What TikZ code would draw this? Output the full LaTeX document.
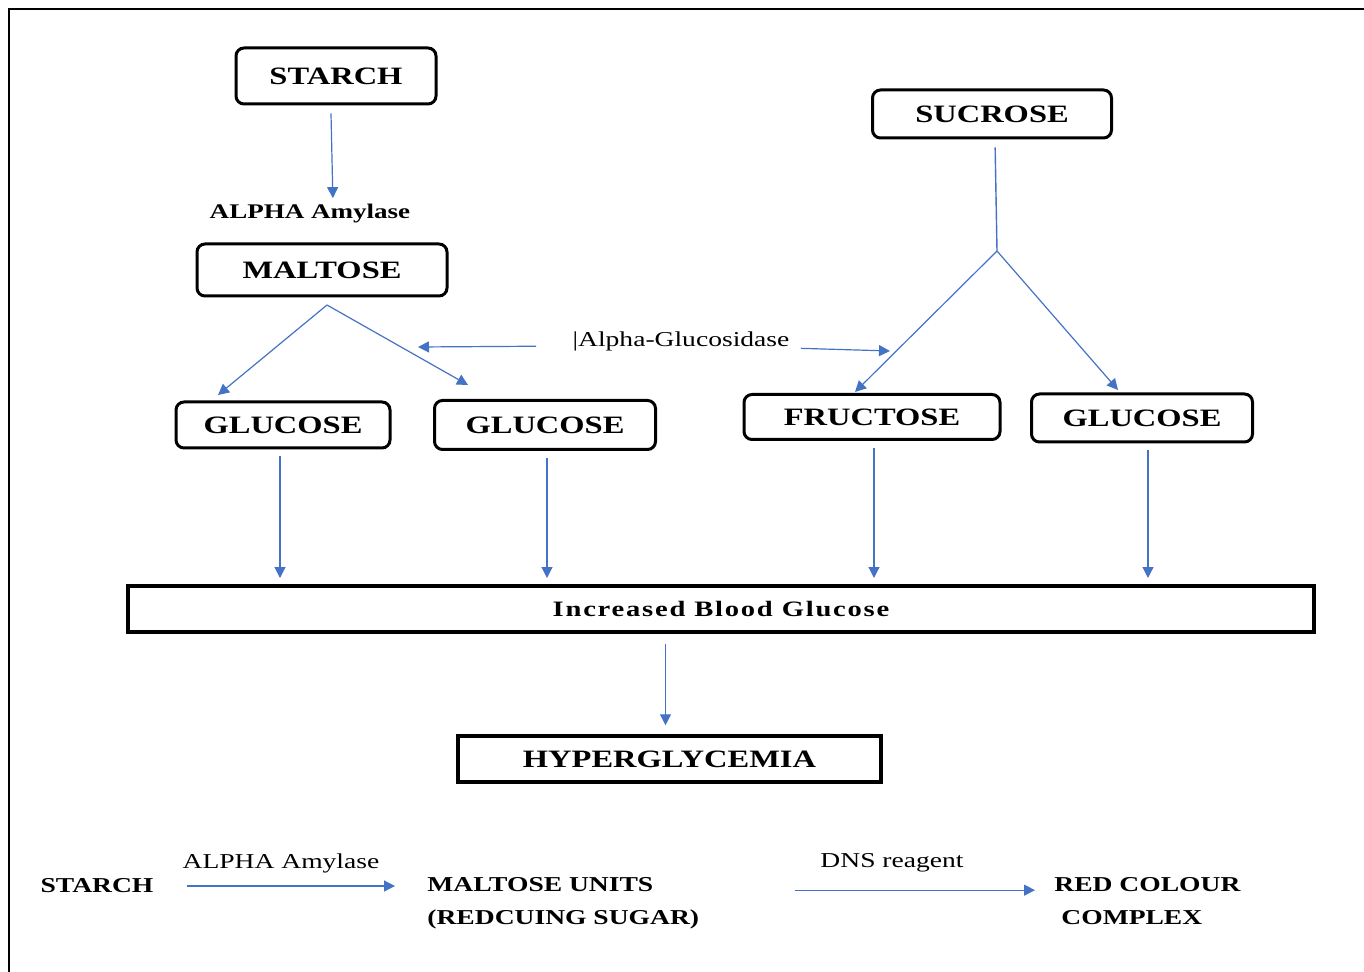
\documentclass[tikz,border=0pt]{standalone}
\usepackage{fontspec}
\setmainfont{Liberation Serif}[FakeStretch=1.3]
\usetikzlibrary{arrows.meta,positioning,calc}
\definecolor{flowblue}{RGB}{68,114,196}
\tikzstyle{sugar} = [draw=black, line width=1.5pt, rounded corners=4pt, inner sep=0pt, text centered, font=\fontsize{12.5}{15}\selectfont\bfseries]
\tikzstyle{sharpbox} = [draw=black, line width=2pt, inner sep=0pt, text centered, font=\fontsize{12.5}{15}\selectfont\bfseries]
\tikzstyle{flow} = [draw=flowblue, line width=0.6pt, -{Triangle[length=5.5pt,width=5.5pt]}]
\tikzstyle{branch} = [draw=flowblue, line width=0.7pt]
\tikzstyle{enzyme} = [inner sep=0pt, font=\fontsize{10.6}{12}\selectfont]
\tikzstyle{term} = [inner sep=0pt, align=left, font=\fontsize{10.6}{16.5}\selectfont\bfseries]

\begin{document}
\begin{tikzpicture}[x=0.5pt,y=-0.5pt]
\useasboundingbox (0,0) rectangle (1364,972);
\draw[line width=1pt] (9,972) -- (9,9) -- (1364,9);

% starch and sucrose pathways
\node[sugar, minimum width=100pt, minimum height=28pt] (starch) at (336,76) {STARCH};
\node[enzyme, font=\fontsize{10.4}{12}\selectfont\bfseries] (amylase) at (310,214) {ALPHA Amylase};
\node[sugar, minimum width=125pt, minimum height=26pt] (maltose) at (322,270) {MALTOSE};
\node[sugar, minimum width=107pt, minimum height=23pt] (gluA) at (283,425) {GLUCOSE};
\node[sugar, minimum width=110.5pt, minimum height=24.5pt] (gluB) at (545,425) {GLUCOSE};
\node[sugar, minimum width=119.5pt, minimum height=24pt] (sucrose) at (992,114) {SUCROSE};
\node[sugar, minimum width=128pt, minimum height=22.5pt] (fructose) at (872,417) {FRUCTOSE};
\node[sugar, minimum width=110.5pt, minimum height=24pt] (gluC) at (1142,418) {GLUCOSE};
\node[enzyme] (glucosidase) at (681,341) {\textbar Alpha-Glucosidase};
\node[sharpbox, minimum width=593pt, minimum height=23pt, font=\fontsize{11}{13}\selectfont\bfseries\addfontfeatures{LetterSpace=8}] (blood) at (721,609) {Increased Blood Glucose};
\node[sharpbox, line width=1.75pt, minimum width=211.5pt, minimum height=23pt] (hyper) at (669.5,759) {HYPERGLYCEMIA};

\coordinate (mfork) at (327,305);
\coordinate (mtipA) at (218,395);
\coordinate (mtipB) at (468,385);
\coordinate (sfork) at (997,251);
\coordinate (stipA) at (855,392);
\coordinate (stipB) at (1118,390);
\coordinate (gtipL) at (418,347);
\coordinate (gtipR) at (890,351);

\draw[flow, shorten >=3pt] ([xshift=-2.5pt,yshift=-4pt]starch.south) -- ([xshift=-1.5pt]starch.south |- amylase.north);
\draw[flow] (mfork) -- (mtipA);
\draw[flow] (mfork) -- (mtipB);
\draw[flow, shorten <=18pt] ([yshift=-2.5pt]glucosidase.west) -- (gtipL);
\draw[flow, shorten <=5.5pt] ([yshift=-3.5pt]glucosidase.east) -- (gtipR);
\draw[branch, shorten <=4pt] ([xshift=1.5pt]sucrose.south) -- (sfork);
\draw[flow] (sfork) -- (stipA);
\draw[flow] (sfork) -- (stipB);
\foreach \s/\dx in {gluA/-1.5pt,gluB/1pt,fructose/1pt,gluC/3pt}
  \draw[flow, shorten <=3.5pt, shorten >=3pt] ([xshift=\dx]\s.south) -- ([xshift=\dx]\s.south |- blood.north);
\draw[flow, shorten <=5pt, shorten >=4.5pt] ([xshift=-2pt]hyper.north |- blood.south) -- ([xshift=-2pt]hyper.north);

% test reaction
\node[term] (bstarch) at (97,886) {STARCH};
\node[term, anchor=north west] (units) at (427,877) {MALTOSE UNITS\\(REDCUING SUGAR)};
\node[term, anchor=north west] (colour) at (1054,877) {RED COLOUR\\\hspace*{3.5pt}COMPLEX};
\node[enzyme] (amylase2) at (281,863) {ALPHA Amylase};
\node[enzyme] (dns) at (892,863) {DNS reagent};
\draw[flow, shorten <=16.5pt, shorten >=16pt] (bstarch.east) -- (bstarch.east -| units.west);
\draw[flow, shorten <=47.5pt, shorten >=9.5pt] ([yshift=6.5pt]units.east) -- ([yshift=6.5pt]units.east -| colour.west);
\end{tikzpicture}
\end{document}
